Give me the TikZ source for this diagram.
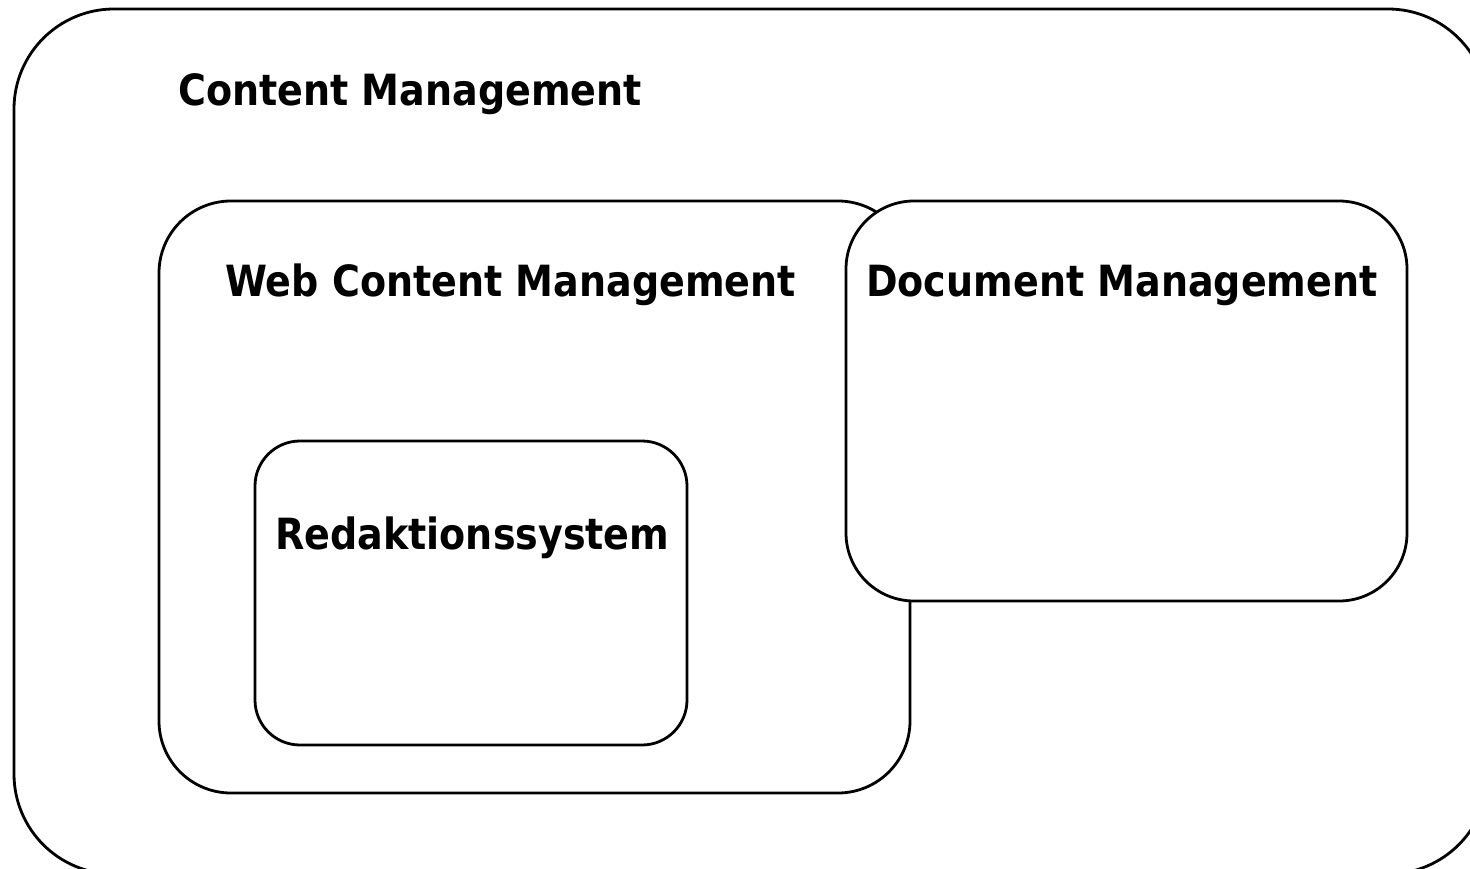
\documentclass[tikz,border=0pt]{standalone}
\usepackage{fontspec}
\setmainfont{DejaVu Sans}
\newcommand{\narrow}[1]{\scalebox{0.885}[1]{#1}}
\begin{document}
\begin{tikzpicture}[x=1pt,y=-1pt,
  box/.style={draw=black,line width=2.8pt,fill=white},
  lbl/.style={anchor=base west,inner sep=0pt,font=\fontsize{43}{48}\selectfont\bfseries}]
\useasboundingbox (0,0) rectangle (1470,869);
\begin{scope}
\clip (0,0) rectangle (1470,869);
\draw[box,rounded corners=100pt] (14,9) rectangle (1488,874);
\end{scope}
\draw[box,rounded corners=72pt] (159,201) rectangle (910,793);
\draw[box,rounded corners=68pt] (846,201) rectangle (1407,601);
\draw[box,rounded corners=45pt] (255,441) rectangle (687,745);
\node[lbl] (cm) at (178,106) {\narrow{Content Management}};
\node[lbl] (wcm) at (225,296) {\narrow{Web Content Management}};
\node[lbl] (dm) at (866,296) {\narrow{Document Management}};
\node[lbl] (rs) at (275,549) {\narrow{Redaktionssystem}};
\end{tikzpicture}
\end{document}
